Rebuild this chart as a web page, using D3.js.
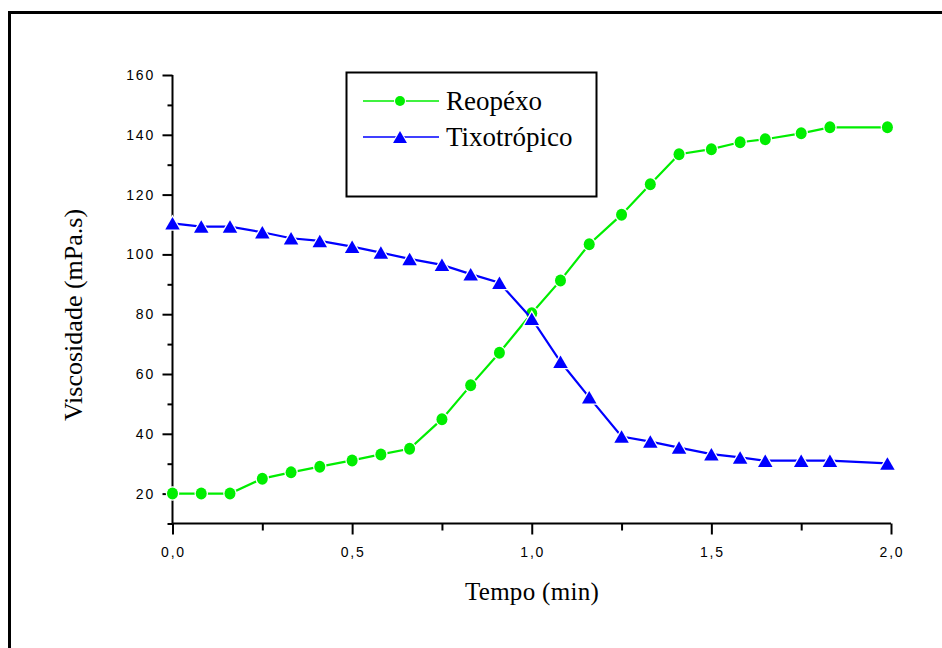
<!DOCTYPE html>
<html><head><meta charset="utf-8">
<script src="https://cdn.jsdelivr.net/npm/d3@7/dist/d3.min.js"></script>
<style>body{margin:0;background:#fff;} svg{display:block;}</style>
</head><body>
<svg id="chart" width="942" height="648"></svg>
<script>
const tempo = [0, 0.08, 0.16, 0.25, 0.33, 0.41, 0.5, 0.58, 0.66, 0.75, 0.83, 0.91, 1.0, 1.08, 1.16, 1.25, 1.33, 1.41, 1.5, 1.58, 1.65, 1.75, 1.83, 1.99];
const reopexo = [20, 20, 20, 25, 27.1, 29, 31.1, 33.1, 35, 44.9, 56.2, 67.1, 80.3, 91.3, 103.4, 113.3, 123.5, 133.5, 135.2, 137.5, 138.5, 140.5, 142.5, 142.5];
const tixotropico = [110.4, 109.3, 109.3, 107.4, 105.4, 104.5, 102.6, 100.6, 98.5, 96.5, 93.4, 90.5, 78.5, 64.1, 52.2, 39.1, 37.4, 35.4, 33.2, 32.1, 31.0, 31.0, 31.0, 30.1];
const seriesNames = ["Reopéxo", "Tixotrópico"];
const xTickValues = [0, 0.5, 1.0, 1.5, 2.0];
const xTickLabels = ["0,0", "0,5", "1,0", "1,5", "2,0"];
const yTickValues = [20, 40, 60, 80, 100, 120, 140, 160];
const xTitle = "Tempo (min)";
const yTitle = "Viscosidade (mPa.s)";

const green = "#00ee00", blue = "#0000ff";
const svg = d3.select("#chart");

// outer frame
svg.append("rect").attr("x", 9.5).attr("y", 12.5).attr("width", 960).attr("height", 700)
  .attr("fill", "none").attr("stroke", "#000").attr("stroke-width", 3);

const x = d3.scaleLinear().domain([0, 2]).range([172.5, 891]);
const y = d3.scaleLinear().domain([10, 160]).range([523.5, 75]);

// x axis
const gx = svg.append("g").attr("transform", `translate(0,${y(10)})`);
gx.call(d3.axisBottom(x).tickValues(d3.range(0, 2.01, 0.25)).tickSize(7).tickFormat(""));
gx.call(g => g.selectAll(".tick line").attr("y2", (d) => Math.abs(d * 2 - Math.round(d * 2)) < 1e-6 ? 11 : 7));
gx.select(".domain").attr("d", `M${x(0)},0H${x(2)}`);
gx.selectAll("path,line").attr("stroke", "#000").attr("stroke-width", 2);

svg.append("g").selectAll("text").data(xTickValues).join("text")
  .attr("x", d => x(d) + 1).attr("y", 557)
  .attr("text-anchor", "middle")
  .attr("font-family", "Liberation Sans, Arial, sans-serif").attr("font-size", 14)
  .attr("letter-spacing", "1.8px").attr("fill", "#000")
  .text((d, i) => xTickLabels[i]);

// y axis
const gy = svg.append("g").attr("transform", `translate(${x(0)},0)`);
gy.call(d3.axisLeft(y).tickValues(d3.range(10, 161, 10)).tickFormat(""));
gy.call(g => g.selectAll(".tick line").attr("x2", d => d % 20 === 0 ? -10 : -5));
gy.select(".domain").attr("d", `M0,${y(10)}V${y(160)}`);
gy.selectAll("path,line").attr("stroke", "#000").attr("stroke-width", 2);

svg.append("g").selectAll("text").data(yTickValues).join("text")
  .attr("x", 155).attr("y", d => y(d) + 5)
  .attr("text-anchor", "end")
  .attr("font-family", "Liberation Sans, Arial, sans-serif").attr("font-size", 14)
  .attr("letter-spacing", "1.8px").attr("fill", "#000")
  .text(d => d);

// titles
svg.append("text").attr("x", 532).attr("y", 600).attr("text-anchor", "middle")
  .attr("font-family", "Liberation Serif, Times New Roman, serif").attr("font-size", 25)
  .attr("letter-spacing", "0.3px")
  .text(xTitle);
svg.append("text").attr("transform", "translate(82,315) rotate(-90)").attr("text-anchor", "middle")
  .attr("font-family", "Liberation Serif, Times New Roman, serif").attr("font-size", 26)
  .text(yTitle);

const triPath = (s) => `M0,${-s*0.5}L${s*0.58},${s*0.5}L${-s*0.58},${s*0.5}Z`;

function drawSeries(xs, ys, color, marker) {
  const data = xs.map((d, i) => [d, ys[i]]);
  const line = d3.line().x(d => x(d[0])).y(d => y(d[1]));
  svg.append("path").datum(data).attr("d", line).attr("fill", "none")
    .attr("stroke", color).attr("stroke-width", 2.2);
  const g = svg.append("g");
  if (marker === "circle") {
    g.selectAll("ellipse").data(data).join("ellipse")
      .attr("cx", d => x(d[0])).attr("cy", d => y(d[1])).attr("rx", 5.5).attr("ry", 6)
      .attr("fill", color).attr("stroke", "#fff").attr("stroke-width", 2.5).attr("paint-order", "stroke");
  } else {
    g.selectAll("path").data(data).join("path")
      .attr("transform", d => `translate(${x(d[0])},${y(d[1])})`)
      .attr("d", triPath(12.5))
      .attr("fill", color).attr("stroke", "#fff").attr("stroke-width", 2.5).attr("paint-order", "stroke");
  }
}
drawSeries(tempo, reopexo, green, "circle");
drawSeries(tempo, tixotropico, blue, "triangle");

// legend
const lg = svg.append("g");
lg.append("rect").attr("x", 346.5).attr("y", 72.5).attr("width", 250).attr("height", 124)
  .attr("fill", "#fff").attr("stroke", "#000").attr("stroke-width", 2);
const legendRows = [
  {name: seriesNames[0], color: green, marker: "circle", cy: 101},
  {name: seriesNames[1], color: blue, marker: "triangle", cy: 137}
];
legendRows.forEach(r => {
  lg.append("line").attr("x1", 363).attr("x2", 439).attr("y1", r.cy).attr("y2", r.cy)
    .attr("stroke", r.color).attr("stroke-width", 1.5);
  if (r.marker === "circle") {
    lg.append("circle").attr("cx", 400).attr("cy", r.cy).attr("r", 5)
      .attr("fill", r.color).attr("stroke", "#fff").attr("stroke-width", 2).attr("paint-order", "stroke");
  } else {
    lg.append("path").attr("transform", `translate(400,${r.cy})`).attr("d", triPath(12))
      .attr("fill", r.color).attr("stroke", "#fff").attr("stroke-width", 2).attr("paint-order", "stroke");
  }
  lg.append("text").attr("x", 446).attr("y", r.cy + 8.5)
    .attr("font-family", "Liberation Serif, Times New Roman, serif").attr("font-size", 27)
    .text(r.name);
});
</script>
</body></html>
